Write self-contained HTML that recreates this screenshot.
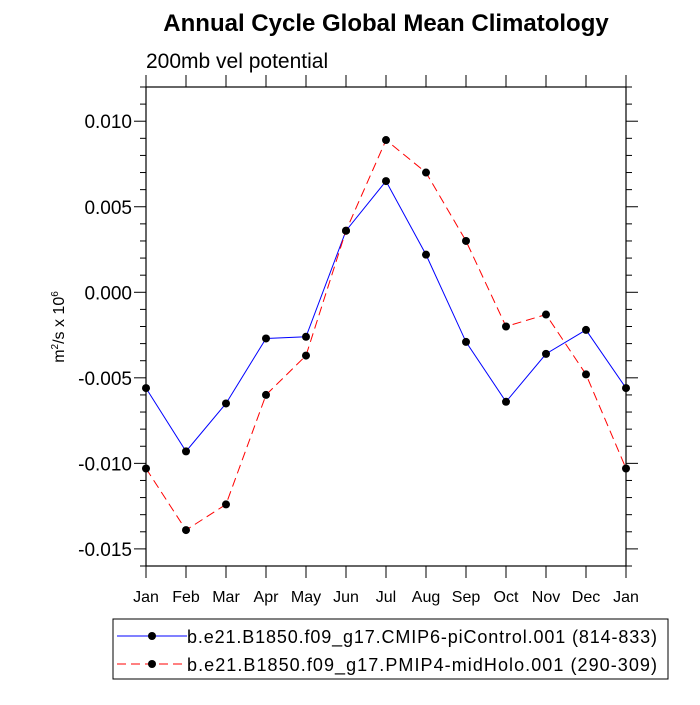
<!DOCTYPE html>
<html><head><meta charset="utf-8"><style>
body{margin:0;background:#fff;font-family:"Liberation Sans",sans-serif;}
</style></head><body>
<svg id="chart" width="700" height="700" xmlns="http://www.w3.org/2000/svg" font-family="Liberation Sans, sans-serif">
<text x="386" y="31" text-anchor="middle" font-size="24" font-weight="bold">Annual Cycle Global Mean Climatology</text>
<text x="146" y="68" font-size="21">200mb vel potential</text>
<text transform="translate(64,327) rotate(-90)" text-anchor="middle" font-size="16">m<tspan font-size="10" dy="-6">2</tspan><tspan dy="6">/s x 10</tspan><tspan font-size="10" dy="-6">6</tspan></text>
<g id="axes"></g>
<g id="series"></g>
<g id="legend">
<rect x="113" y="619" width="555" height="60" fill="#fff" stroke="#000" stroke-width="1"/>
<line x1="117" y1="636" x2="187" y2="636" stroke="#0000ff" stroke-width="1"/>
<circle cx="152" cy="636" r="4" fill="#000"/>
<text x="187" y="643" font-size="18" textLength="470">b.e21.B1850.f09_g17.CMIP6-piControl.001 (814-833)</text>
<line x1="117" y1="664" x2="187" y2="664" stroke="#ff0000" stroke-width="1" stroke-dasharray="9,5"/>
<circle cx="152" cy="664" r="4" fill="#000"/>
<text x="187" y="671" font-size="18" textLength="470">b.e21.B1850.f09_g17.PMIP4-midHolo.001 (290-309)</text>
</g>
</svg>
<script>
const months = ["Jan","Feb","Mar","Apr","May","Jun","Jul","Aug","Sep","Oct","Nov","Dec","Jan"];
const piControl = [-0.0056,-0.0093,-0.0065,-0.0027,-0.0026,0.0036,0.0065,0.0022,-0.0029,-0.0064,-0.0036,-0.0022,-0.0056];
const midHolo = [-0.0103,-0.0139,-0.0124,-0.0060,-0.0037,0.0036,0.0089,0.0070,0.0030,-0.0020,-0.0013,-0.0048,-0.0103];
const yTicks = [0.010,0.005,0.000,-0.005,-0.010,-0.015];
const yTickLabels = ["0.010","0.005","0.000","-0.005","-0.010","-0.015"];
const L=146,R=626,T=87,B=566,YMIN=-0.016,YMAX=0.012;
const xs=i=>L+(R-L)*i/(months.length-1);
const ys=v=>B-(v-YMIN)/(YMAX-YMIN)*(B-T);
const NS="http://www.w3.org/2000/svg";
function mk(tag,attrs,parent){const e=document.createElementNS(NS,tag);for(const k in attrs)e.setAttribute(k,attrs[k]);parent.appendChild(e);return e;}
const ax=document.getElementById('axes');
const frame=mk('rect',{x:L,y:T,width:R-L,height:B-T,fill:'none',stroke:'#000','stroke-width':1.2},ax);


months.forEach((m,i)=>{
  const x=xs(i);
  mk('line',{x1:x,y1:B,x2:x,y2:B+12,stroke:'#000'},ax);
  mk('line',{x1:x,y1:T,x2:x,y2:T-12,stroke:'#000'},ax);
  const t=mk('text',{x:x,y:B+36,'text-anchor':'middle','font-size':16},ax);
  t.textContent=m;
  
  
});
for(let k=-16;k<=12;k++){
  const y=ys(k/1000);
  const major=k%5===0;
  const len=major?12:6;
  mk('line',{x1:L,y1:y,x2:L-len,y2:y,stroke:'#000'},ax);
  mk('line',{x1:R,y1:y,x2:R+len,y2:y,stroke:'#000'},ax);
}
yTicks.forEach((v,i)=>{
  const t=mk('text',{x:L-14,y:ys(v)+7,'text-anchor':'end','font-size':19},ax);
  t.textContent=yTickLabels[i];
  
  
});
const sg=document.getElementById('series');
function draw(vals,color,dash,name){
  const p=mk('polyline',{points:vals.map((v,i)=>xs(i)+','+ys(v)).join(' '),fill:'none',stroke:color,'stroke-width':1,'stroke-dasharray':dash},sg);
  
  
  vals.forEach((v,i)=>{
    const c=mk('circle',{cx:xs(i),cy:ys(v),r:4,fill:'#000'},sg);
    
    
  });
}
draw(piControl,'#0000ff','none','picontrol');
draw(midHolo,'#ff0000','9,5','midholo');
</script>
</body></html>
